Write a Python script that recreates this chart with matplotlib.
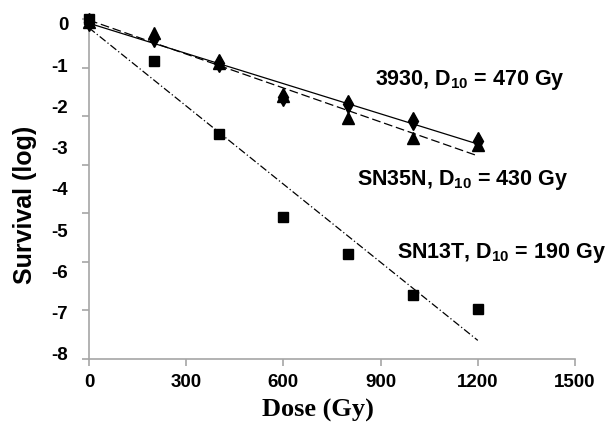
import numpy as np
import matplotlib
matplotlib.use('Agg')
import matplotlib.pyplot as plt

plt.rcParams['font.family'] = ['Liberation Sans', 'DejaVu Sans']
plt.rcParams['mathtext.fontset'] = 'custom'
plt.rcParams['mathtext.bf'] = 'Liberation Sans:bold'
plt.rcParams['mathtext.rm'] = 'Liberation Sans'

dose = [0, 200, 400, 600, 800, 1000, 1200]
s3930 = [0.05, -0.34, -0.95, -1.77, -1.94, -2.35, -2.84]
sn35n = [0.04, -0.22, -0.95, -1.76, -2.28, -2.77, -2.94]
sn13t = [0.12, -0.90, -2.67, -4.68, -5.58, -6.58, -6.92]
labels = ['3930, D$_{\\mathbf{10}}$ = 470 Gy',
          'SN35N, D$_{\\mathbf{10}}$ = 430 Gy',
          'SN13T, D$_{\\mathbf{10}}$ = 190 Gy']
xticks = [0, 300, 600, 900, 1200, 1500]
yticks = [0, -1, -2, -3, -4, -5, -6, -7, -8]

fig = plt.figure(figsize=(6.06, 4.28), dpi=100)
ax = fig.add_axes([89/606, 1 - 359/428, (575 - 89)/606, (359 - 19)/428])

ymin, ymax = -8.13, 0.12
ax.set_xlim(0, 1500)
ax.set_ylim(ymin, ymax)

x = np.array(dose)
xf = np.array([0, 1200])
# trendlines (least squares), like the spreadsheet
for ys, ls in [(s3930, '-'), (sn35n, (0, (7, 3))), (sn13t, (0, (6, 2, 1, 2)))]:
    p = np.polyfit(x, ys, 1)
    ax.plot(xf, np.polyval(p, xf), color='black', lw=0.9, ls=ls, zorder=2)

ax.plot(dose, sn35n, '^', color='black', ms=8, clip_on=False, zorder=3)
ax.plot(dose, s3930, 'd', color='black', ms=9, clip_on=False, zorder=4)
ax.plot(dose, sn13t, 's', color='black', ms=7.5, clip_on=False, zorder=5)

for sp in ['top', 'right']:
    ax.spines[sp].set_visible(False)
for sp in ['left', 'bottom']:
    ax.spines[sp].set_color('#a6a6a6')
    ax.spines[sp].set_linewidth(1.2)

ax.set_xticks(xticks)
ax.set_xticklabels([str(t) for t in xticks], fontsize=13.5, fontweight='bold')
ax.tick_params(axis='x', length=5, color='#a6a6a6', width=1.2, pad=6)

ax.set_yticks(yticks)
ax.set_yticklabels([str(t) for t in yticks], fontsize=13.5, fontweight='bold')
ax.tick_params(axis='y', which='major', length=0, pad=15)
ax.set_yticks(np.linspace(ymin, ymax, 8), minor=True)
ax.tick_params(axis='y', which='minor', length=5, color='#a6a6a6', width=1.2)

fig.text(25/606, 1 - 205/428, 'Survival (log)', rotation=90, ha='center', va='center',
         fontsize=18, fontweight='bold')
fig.text(318/606, 1 - 410/428, 'Dose (Gy)', ha='center', va='center',
         fontsize=19, fontweight='bold', family='Liberation Serif')

fig.text(375/606, 1 - 80/428, labels[0], ha='left', va='center', fontsize=15.5, fontweight='bold')
fig.text(357/606, 1 - 180/428, labels[1], ha='left', va='center', fontsize=15.5, fontweight='bold')
fig.text(397/606, 1 - 253/428, labels[2], ha='left', va='center', fontsize=15.5, fontweight='bold')

fig.savefig('out.png', dpi=100)
